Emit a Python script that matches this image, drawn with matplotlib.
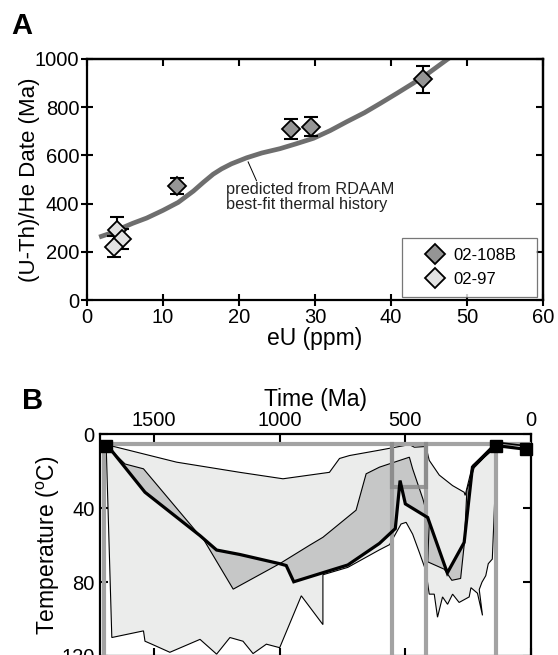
import matplotlib
matplotlib.use("Agg")
import matplotlib.pyplot as plt
from matplotlib.lines import Line2D

plt.rcParams['font.family'] = ['Liberation Sans', 'DejaVu Sans']
plt.rcParams['mathtext.fontset'] = 'custom'
plt.rcParams['mathtext.rm'] = 'Liberation Sans'

# ---------------- Panel A data ----------------
s108_eu = [11.8, 26.8, 29.5, 44.2]
s108_date = [474, 710, 719, 916]
s108_err = [33, 42, 40, 57]

s97_eu = [3.9, 4.6, 3.55]
s97_date = [290, 252, 221]
s97_err = [55, 42, 44]

curve_eu = [1.6, 3, 4.3, 6, 7.85, 10, 12, 14, 15.3, 16.6, 17.7, 19, 21, 23, 25.4, 27.5, 29.8,
            32, 34.2, 36.5, 38.6, 40.8, 42.9, 45, 47.3, 48]
curve_date = [261, 276, 295, 318, 340, 372, 405, 452, 488, 522, 544, 565, 590, 610, 628, 648, 671,
              703, 740, 777, 816, 858, 899, 943, 996, 1012]

a_xticks = [0, 10, 20, 30, 40, 50, 60]
a_yticks = [0, 200, 400, 600, 800, 1000]

# ---------------- Panel B data ----------------
light_t = [1690, 1675, 1410, 1159, 987, 802, 762, 722, 603, 484, 464, 418, 405, 365, 312, 266, 262,
           233, 154, 140,
           136, 148, 154, 170, 180, 195, 206, 193,
           213, 239, 246, 286, 312, 332, 352, 372, 385, 405, 418, 444, 471, 497, 517, 563, 603,
           729, 828, 828, 914, 1000, 1053, 1106, 1146, 1198, 1251, 1317, 1437, 1509, 1536,
           1542, 1668, 1690]
light_T = [5, 6, 15, 20.5, 24, 20.5, 13, 11.4, 8.5, 5.5, 6.9, 6.5, 14, 22, 27.7, 31.3, 33,
           16.8, 6.9, 5,
           6, 48, 67.5, 70, 76.5, 80, 84, 98,
           86, 83, 88, 91, 86.5, 92, 88, 99, 86.5, 86.5, 74, 64, 54, 47.6, 48.5, 59.7, 62.5,
           72, 76, 103, 87.4, 115.5, 113.6, 118.7, 112, 110, 119, 111, 118, 113.6, 112,
           106.4, 110, 8]

dark_t = [1690, 1615, 1542, 1317, 1251, 1159, 1000, 881, 828, 696, 656, 603, 484, 471, 430, 405,
          411, 345, 315, 280, 266, 255, 226, 154, 140,
          140, 233, 266, 333, 411, 500, 521, 540, 603, 729, 944, 974, 1000, 1185, 1304, 1317,
          1536, 1675, 1690]
dark_T = [6, 16, 18.6, 55, 62.6, 65, 70, 60, 55.7, 41, 21.3, 17.7, 12.3, 18.6, 35, 47.6,
          69, 73, 79, 78, 60, 30, 18, 8, 5.5,
          7, 17.7, 58.5, 75, 45, 37.6, 25, 51, 59, 70.7, 79.8, 71, 70, 83.8, 56.6, 55,
          31, 8, 6]

best_t = [1690, 1675, 1536, 1317, 1251, 1159, 1000, 974, 944, 729, 603, 540, 521, 500, 411,
          333, 266, 233, 154, 140, 20]
best_T = [6, 7.7, 31.3, 54.8, 62.6, 65, 70, 71, 79.8, 70.7, 59, 51, 25, 37.6, 45,
          75, 58.5, 17.7, 6.9, 6, 8]

extra_t = [140, 20]
extra_T = [4.2, 6.2]

constraint_T_top = 5
constraint_verticals = [1700, 553, 418, 140]
box_t = [553, 418]
box_T_bottom = 28.6

square_t = [1690, 140, 20]
square_T = [6, 6, 8]

b_xticks = [1500, 1000, 500, 0]
b_yticks = [0, 40, 80, 120]

# ---------------- Figure ----------------
W, H = 558, 655
fig = plt.figure(figsize=(W / 100, H / 100), dpi=100)

# ---- Panel A ----
axA = fig.add_axes([87 / W, 1 - 300 / H, 456 / W, 241 / H])
axA.plot(curve_eu, curve_date, color='#6e6e6e', lw=3.4, solid_capstyle='butt', zorder=2,
         clip_on=True)
axA.errorbar(s108_eu, s108_date, yerr=s108_err, fmt='none', ecolor='black', elinewidth=1.5,
             capsize=5.2, capthick=1.5, zorder=3)
axA.errorbar(s97_eu, s97_date, yerr=s97_err, fmt='none', ecolor='black', elinewidth=1.5,
             capsize=5.2, capthick=1.5, zorder=3)
axA.plot(s108_eu, s108_date, 'D', ms=9.3, mfc='#959595', mec='black', mew=1.3, zorder=4,
         linestyle='none')
axA.plot(s97_eu, s97_date, 'D', ms=9.3, mfc='#e2e2e2', mec='black', mew=1.3, zorder=4,
         linestyle='none')

axA.set_xlim(0, 60)
axA.set_ylim(0, 1000)
axA.set_xticks(a_xticks)
axA.set_yticks(a_yticks)
axA.tick_params(axis='both', which='both', labelsize=14.5, width=1.5, color='black',
                direction='inout', length=9, pad=1, top=False, right=False)
for sp in axA.spines.values():
    sp.set_linewidth(1.6)

secx = axA.secondary_xaxis('top')
secx.set_xticks(a_xticks)
secx.tick_params(direction='in', length=5, width=1.5, labeltop=False)
secx.spines['top'].set_linewidth(1.6)
secy = axA.secondary_yaxis('right')
secy.set_yticks(a_yticks)
secy.tick_params(direction='in', length=5, width=1.5, labelright=False)
secy.spines['right'].set_linewidth(1.6)

axA.set_xlabel('eU (ppm)', fontsize=16.5, labelpad=0)
axA.set_ylabel('(U-Th)/He Date (Ma)', fontsize=16, labelpad=-4)

axA.text(18.3, 427, 'predicted from RDAAM\nbest-fit thermal history', fontsize=11.8,
         va='center', ha='left', linespacing=1.05, color='#222222')
axA.plot([21.2, 22.3], [573, 495], color='black', lw=0.7)

handles = [Line2D([], [], marker='D', ls='none', ms=10, mfc='#959595', mec='black', mew=1.3),
           Line2D([], [], marker='D', ls='none', ms=10, mfc='#e2e2e2', mec='black', mew=1.3)]
leg = axA.legend(handles, ['02-108B', '02-97'], loc='lower left',
                 bbox_to_anchor=(0.691, 0.012, 0.296, 0.25), mode='expand',
                 borderaxespad=0, fontsize=12,
                 fancybox=False, frameon=True, edgecolor='#555555', borderpad=0.6,
                 labelspacing=0.55, handletextpad=-0.3, handlelength=2.75)
leg.get_frame().set_linewidth(0.9)

fig.text(11 / W, 1 - 26 / H, 'A', fontsize=21, fontweight='bold', va='center', ha='left')

# ---- Panel B ----
axB = fig.add_axes([100 / W, -0.0015, 431 / W, (655.5 - 434) / H])
axB.fill(light_t, light_T, facecolor='#ebeceb', edgecolor='black', lw=0.8, zorder=1)
axB.fill(dark_t, dark_T, facecolor='#c6c7c7', edgecolor='black', lw=0.8, zorder=2)

gcol = '#a3a3a3'
axB.plot([1715, 0], [constraint_T_top, constraint_T_top], color=gcol, lw=3, zorder=3,
         solid_capstyle='butt')
for t in constraint_verticals:
    axB.plot([t, t], [constraint_T_top, 130], color=gcol, lw=3, zorder=3,
             solid_capstyle='butt')
bcol = '#8a8a8a'
axB.plot([box_t[0], box_t[0], box_t[1], box_t[1]],
         [constraint_T_top, box_T_bottom, box_T_bottom, constraint_T_top],
         color=bcol, lw=3, zorder=3.5, alpha=0.85, solid_joinstyle='miter')

axB.plot(best_t, best_T, color='black', lw=2.3, zorder=5, solid_joinstyle='miter')
axB.plot(extra_t, extra_T, color='black', lw=1.2, zorder=5)
axB.plot(square_t, square_T, 's', ms=8.5, color='black', zorder=6, clip_on=False,
         linestyle='none')

axB.set_xlim(1715, 0)
axB.set_ylim(120, 0)
axB.set_xticks(b_xticks)
axB.set_yticks(b_yticks)
axB.xaxis.tick_top()
axB.xaxis.set_label_position('top')
axB.tick_params(axis='x', direction='in', length=6, width=1.5, top=True, bottom=True,
                labeltop=True, labelbottom=False, labelsize=14.5, pad=3)
axB.tick_params(axis='y', direction='in', length=6, width=1.5, left=True, right=True,
                labelsize=14.5, pad=4)
for sp in axB.spines.values():
    sp.set_linewidth(1.6)
axB.set_xlabel('Time (Ma)', fontsize=16.5, labelpad=4)
axB.set_ylabel(r'Temperature ($^{\rm o}$C)', fontsize=16.5, labelpad=-1)

fig.text(22 / W, 1 - 401 / H, 'B', fontsize=21, fontweight='bold', va='center', ha='left')

fig.savefig('out.png', dpi=100)
